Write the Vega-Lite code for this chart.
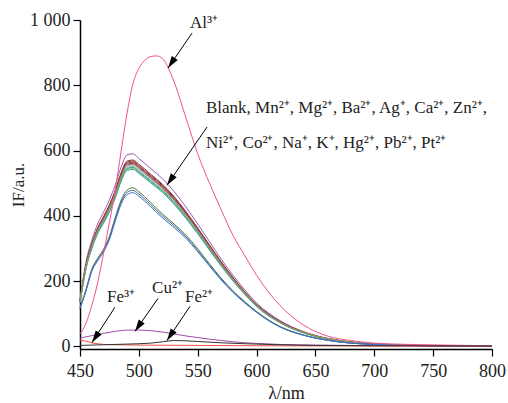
{
"$schema": "https://vega.github.io/schema/vega-lite/v6.json",
"width": 412, "height": 329,
"autosize": {"type": "none"},
"padding": {"left": 80, "top": 20, "right": 16, "bottom": 54},
"background": "white",
"config": {"view": {"stroke": null}, "font": "Liberation Serif"},
"datasets": {
"curves": [
{"s":"Mn2+","x":450,"y":145},{"s":"Mn2+","x":455,"y":257},{"s":"Mn2+","x":460,"y":325},{"s":"Mn2+","x":465,"y":375},{"s":"Mn2+","x":470,"y":411},{"s":"Mn2+","x":475,"y":449},{"s":"Mn2+","x":480,"y":495},{"s":"Mn2+","x":485,"y":550},{"s":"Mn2+","x":490,"y":587},{"s":"Mn2+","x":495,"y":590},{"s":"Mn2+","x":500,"y":576},{"s":"Mn2+","x":510,"y":545},{"s":"Mn2+","x":520,"y":514},{"s":"Mn2+","x":530,"y":474},{"s":"Mn2+","x":540,"y":427},{"s":"Mn2+","x":550,"y":375},{"s":"Mn2+","x":560,"y":321},{"s":"Mn2+","x":570,"y":267},{"s":"Mn2+","x":580,"y":218},{"s":"Mn2+","x":590,"y":173},{"s":"Mn2+","x":600,"y":133},{"s":"Mn2+","x":620,"y":79},{"s":"Mn2+","x":640,"y":45},{"s":"Mn2+","x":660,"y":25},{"s":"Mn2+","x":680,"y":14},{"s":"Mn2+","x":700,"y":7},{"s":"Mn2+","x":730,"y":3},{"s":"Mn2+","x":760,"y":2},{"s":"Mn2+","x":800,"y":1},
{"s":"Blank","x":450,"y":140},{"s":"Blank","x":455,"y":249},{"s":"Blank","x":460,"y":315},{"s":"Blank","x":465,"y":363},{"s":"Blank","x":470,"y":398},{"s":"Blank","x":475,"y":434},{"s":"Blank","x":480,"y":479},{"s":"Blank","x":485,"y":533},{"s":"Blank","x":490,"y":568},{"s":"Blank","x":495,"y":571},{"s":"Blank","x":500,"y":558},{"s":"Blank","x":510,"y":528},{"s":"Blank","x":520,"y":497},{"s":"Blank","x":530,"y":459},{"s":"Blank","x":540,"y":413},{"s":"Blank","x":550,"y":363},{"s":"Blank","x":560,"y":311},{"s":"Blank","x":570,"y":259},{"s":"Blank","x":580,"y":211},{"s":"Blank","x":590,"y":167},{"s":"Blank","x":600,"y":129},{"s":"Blank","x":620,"y":76},{"s":"Blank","x":640,"y":44},{"s":"Blank","x":660,"y":24},{"s":"Blank","x":680,"y":13},{"s":"Blank","x":700,"y":7},{"s":"Blank","x":730,"y":3},{"s":"Blank","x":760,"y":2},{"s":"Blank","x":800,"y":1},
{"s":"Mg2+","x":450,"y":139},{"s":"Mg2+","x":455,"y":247},{"s":"Mg2+","x":460,"y":312},{"s":"Mg2+","x":465,"y":361},{"s":"Mg2+","x":470,"y":395},{"s":"Mg2+","x":475,"y":431},{"s":"Mg2+","x":480,"y":476},{"s":"Mg2+","x":485,"y":529},{"s":"Mg2+","x":490,"y":564},{"s":"Mg2+","x":495,"y":568},{"s":"Mg2+","x":500,"y":554},{"s":"Mg2+","x":510,"y":524},{"s":"Mg2+","x":520,"y":494},{"s":"Mg2+","x":530,"y":456},{"s":"Mg2+","x":540,"y":410},{"s":"Mg2+","x":550,"y":361},{"s":"Mg2+","x":560,"y":308},{"s":"Mg2+","x":570,"y":257},{"s":"Mg2+","x":580,"y":210},{"s":"Mg2+","x":590,"y":166},{"s":"Mg2+","x":600,"y":128},{"s":"Mg2+","x":620,"y":76},{"s":"Mg2+","x":640,"y":43},{"s":"Mg2+","x":660,"y":24},{"s":"Mg2+","x":680,"y":13},{"s":"Mg2+","x":700,"y":7},{"s":"Mg2+","x":730,"y":3},{"s":"Mg2+","x":760,"y":2},{"s":"Mg2+","x":800,"y":1},
{"s":"Ba2+","x":450,"y":138},{"s":"Ba2+","x":455,"y":245},{"s":"Ba2+","x":460,"y":311},{"s":"Ba2+","x":465,"y":359},{"s":"Ba2+","x":470,"y":393},{"s":"Ba2+","x":475,"y":429},{"s":"Ba2+","x":480,"y":473},{"s":"Ba2+","x":485,"y":526},{"s":"Ba2+","x":490,"y":561},{"s":"Ba2+","x":495,"y":564},{"s":"Ba2+","x":500,"y":551},{"s":"Ba2+","x":510,"y":521},{"s":"Ba2+","x":520,"y":491},{"s":"Ba2+","x":530,"y":453},{"s":"Ba2+","x":540,"y":408},{"s":"Ba2+","x":550,"y":359},{"s":"Ba2+","x":560,"y":307},{"s":"Ba2+","x":570,"y":256},{"s":"Ba2+","x":580,"y":208},{"s":"Ba2+","x":590,"y":165},{"s":"Ba2+","x":600,"y":127},{"s":"Ba2+","x":620,"y":75},{"s":"Ba2+","x":640,"y":43},{"s":"Ba2+","x":660,"y":24},{"s":"Ba2+","x":680,"y":13},{"s":"Ba2+","x":700,"y":7},{"s":"Ba2+","x":730,"y":3},{"s":"Ba2+","x":760,"y":2},{"s":"Ba2+","x":800,"y":1},
{"s":"Ag+","x":450,"y":137},{"s":"Ag+","x":455,"y":244},{"s":"Ag+","x":460,"y":309},{"s":"Ag+","x":465,"y":357},{"s":"Ag+","x":470,"y":390},{"s":"Ag+","x":475,"y":426},{"s":"Ag+","x":480,"y":470},{"s":"Ag+","x":485,"y":523},{"s":"Ag+","x":490,"y":558},{"s":"Ag+","x":495,"y":561},{"s":"Ag+","x":500,"y":548},{"s":"Ag+","x":510,"y":518},{"s":"Ag+","x":520,"y":488},{"s":"Ag+","x":530,"y":450},{"s":"Ag+","x":540,"y":405},{"s":"Ag+","x":550,"y":357},{"s":"Ag+","x":560,"y":305},{"s":"Ag+","x":570,"y":254},{"s":"Ag+","x":580,"y":207},{"s":"Ag+","x":590,"y":164},{"s":"Ag+","x":600,"y":126},{"s":"Ag+","x":620,"y":75},{"s":"Ag+","x":640,"y":43},{"s":"Ag+","x":660,"y":24},{"s":"Ag+","x":680,"y":13},{"s":"Ag+","x":700,"y":7},{"s":"Ag+","x":730,"y":3},{"s":"Ag+","x":760,"y":2},{"s":"Ag+","x":800,"y":1},
{"s":"Ca2+","x":450,"y":136},{"s":"Ca2+","x":455,"y":242},{"s":"Ca2+","x":460,"y":306},{"s":"Ca2+","x":465,"y":354},{"s":"Ca2+","x":470,"y":387},{"s":"Ca2+","x":475,"y":423},{"s":"Ca2+","x":480,"y":466},{"s":"Ca2+","x":485,"y":519},{"s":"Ca2+","x":490,"y":553},{"s":"Ca2+","x":495,"y":556},{"s":"Ca2+","x":500,"y":543},{"s":"Ca2+","x":510,"y":514},{"s":"Ca2+","x":520,"y":484},{"s":"Ca2+","x":530,"y":447},{"s":"Ca2+","x":540,"y":402},{"s":"Ca2+","x":550,"y":354},{"s":"Ca2+","x":560,"y":302},{"s":"Ca2+","x":570,"y":252},{"s":"Ca2+","x":580,"y":206},{"s":"Ca2+","x":590,"y":163},{"s":"Ca2+","x":600,"y":125},{"s":"Ca2+","x":620,"y":74},{"s":"Ca2+","x":640,"y":42},{"s":"Ca2+","x":660,"y":24},{"s":"Ca2+","x":680,"y":13},{"s":"Ca2+","x":700,"y":7},{"s":"Ca2+","x":730,"y":3},{"s":"Ca2+","x":760,"y":2},{"s":"Ca2+","x":800,"y":1},
{"s":"Zn2+","x":450,"y":135},{"s":"Zn2+","x":455,"y":240},{"s":"Zn2+","x":460,"y":303},{"s":"Zn2+","x":465,"y":350},{"s":"Zn2+","x":470,"y":384},{"s":"Zn2+","x":475,"y":419},{"s":"Zn2+","x":480,"y":462},{"s":"Zn2+","x":485,"y":514},{"s":"Zn2+","x":490,"y":548},{"s":"Zn2+","x":495,"y":551},{"s":"Zn2+","x":500,"y":538},{"s":"Zn2+","x":510,"y":509},{"s":"Zn2+","x":520,"y":480},{"s":"Zn2+","x":530,"y":443},{"s":"Zn2+","x":540,"y":398},{"s":"Zn2+","x":550,"y":350},{"s":"Zn2+","x":560,"y":300},{"s":"Zn2+","x":570,"y":250},{"s":"Zn2+","x":580,"y":204},{"s":"Zn2+","x":590,"y":162},{"s":"Zn2+","x":600,"y":124},{"s":"Zn2+","x":620,"y":73},{"s":"Zn2+","x":640,"y":42},{"s":"Zn2+","x":660,"y":23},{"s":"Zn2+","x":680,"y":13},{"s":"Zn2+","x":700,"y":7},{"s":"Zn2+","x":730,"y":3},{"s":"Zn2+","x":760,"y":2},{"s":"Zn2+","x":800,"y":1},
{"s":"Ni2+","x":450,"y":134},{"s":"Ni2+","x":455,"y":238},{"s":"Ni2+","x":460,"y":302},{"s":"Ni2+","x":465,"y":348},{"s":"Ni2+","x":470,"y":381},{"s":"Ni2+","x":475,"y":416},{"s":"Ni2+","x":480,"y":459},{"s":"Ni2+","x":485,"y":511},{"s":"Ni2+","x":490,"y":545},{"s":"Ni2+","x":495,"y":548},{"s":"Ni2+","x":500,"y":535},{"s":"Ni2+","x":510,"y":506},{"s":"Ni2+","x":520,"y":477},{"s":"Ni2+","x":530,"y":440},{"s":"Ni2+","x":540,"y":396},{"s":"Ni2+","x":550,"y":348},{"s":"Ni2+","x":560,"y":298},{"s":"Ni2+","x":570,"y":248},{"s":"Ni2+","x":580,"y":202},{"s":"Ni2+","x":590,"y":161},{"s":"Ni2+","x":600,"y":124},{"s":"Ni2+","x":620,"y":73},{"s":"Ni2+","x":640,"y":42},{"s":"Ni2+","x":660,"y":23},{"s":"Ni2+","x":680,"y":13},{"s":"Ni2+","x":700,"y":7},{"s":"Ni2+","x":730,"y":3},{"s":"Ni2+","x":760,"y":2},{"s":"Ni2+","x":800,"y":1},
{"s":"Co2+","x":450,"y":134},{"s":"Co2+","x":455,"y":237},{"s":"Co2+","x":460,"y":300},{"s":"Co2+","x":465,"y":347},{"s":"Co2+","x":470,"y":379},{"s":"Co2+","x":475,"y":414},{"s":"Co2+","x":480,"y":457},{"s":"Co2+","x":485,"y":508},{"s":"Co2+","x":490,"y":542},{"s":"Co2+","x":495,"y":545},{"s":"Co2+","x":500,"y":532},{"s":"Co2+","x":510,"y":503},{"s":"Co2+","x":520,"y":474},{"s":"Co2+","x":530,"y":438},{"s":"Co2+","x":540,"y":394},{"s":"Co2+","x":550,"y":347},{"s":"Co2+","x":560,"y":296},{"s":"Co2+","x":570,"y":247},{"s":"Co2+","x":580,"y":201},{"s":"Co2+","x":590,"y":160},{"s":"Co2+","x":600,"y":123},{"s":"Co2+","x":620,"y":73},{"s":"Co2+","x":640,"y":42},{"s":"Co2+","x":660,"y":23},{"s":"Co2+","x":680,"y":13},{"s":"Co2+","x":700,"y":7},{"s":"Co2+","x":730,"y":3},{"s":"Co2+","x":760,"y":2},{"s":"Co2+","x":800,"y":1},
{"s":"Na+","x":450,"y":133},{"s":"Na+","x":455,"y":236},{"s":"Na+","x":460,"y":299},{"s":"Na+","x":465,"y":345},{"s":"Na+","x":470,"y":377},{"s":"Na+","x":475,"y":412},{"s":"Na+","x":480,"y":455},{"s":"Na+","x":485,"y":506},{"s":"Na+","x":490,"y":539},{"s":"Na+","x":495,"y":542},{"s":"Na+","x":500,"y":530},{"s":"Na+","x":510,"y":501},{"s":"Na+","x":520,"y":472},{"s":"Na+","x":530,"y":435},{"s":"Na+","x":540,"y":392},{"s":"Na+","x":550,"y":345},{"s":"Na+","x":560,"y":295},{"s":"Na+","x":570,"y":246},{"s":"Na+","x":580,"y":200},{"s":"Na+","x":590,"y":159},{"s":"Na+","x":600,"y":122},{"s":"Na+","x":620,"y":72},{"s":"Na+","x":640,"y":41},{"s":"Na+","x":660,"y":23},{"s":"Na+","x":680,"y":13},{"s":"Na+","x":700,"y":7},{"s":"Na+","x":730,"y":3},{"s":"Na+","x":760,"y":2},{"s":"Na+","x":800,"y":1},
{"s":"K+","x":450,"y":137},{"s":"K+","x":455,"y":243},{"s":"K+","x":460,"y":308},{"s":"K+","x":465,"y":355},{"s":"K+","x":470,"y":389},{"s":"K+","x":475,"y":425},{"s":"K+","x":480,"y":468},{"s":"K+","x":485,"y":521},{"s":"K+","x":490,"y":556},{"s":"K+","x":495,"y":558},{"s":"K+","x":500,"y":546},{"s":"K+","x":510,"y":516},{"s":"K+","x":520,"y":486},{"s":"K+","x":530,"y":448},{"s":"K+","x":540,"y":404},{"s":"K+","x":550,"y":355},{"s":"K+","x":560,"y":304},{"s":"K+","x":570,"y":253},{"s":"K+","x":580,"y":206},{"s":"K+","x":590,"y":164},{"s":"K+","x":600,"y":126},{"s":"K+","x":620,"y":74},{"s":"K+","x":640,"y":43},{"s":"K+","x":660,"y":24},{"s":"K+","x":680,"y":13},{"s":"K+","x":700,"y":7},{"s":"K+","x":730,"y":3},{"s":"K+","x":760,"y":2},{"s":"K+","x":800,"y":1},
{"s":"Hg2+","x":450,"y":119},{"s":"Hg2+","x":455,"y":173},{"s":"Hg2+","x":460,"y":237},{"s":"Hg2+","x":465,"y":270},{"s":"Hg2+","x":470,"y":298},{"s":"Hg2+","x":475,"y":337},{"s":"Hg2+","x":480,"y":396},{"s":"Hg2+","x":485,"y":449},{"s":"Hg2+","x":490,"y":479},{"s":"Hg2+","x":495,"y":486},{"s":"Hg2+","x":500,"y":474},{"s":"Hg2+","x":510,"y":441},{"s":"Hg2+","x":520,"y":406},{"s":"Hg2+","x":530,"y":375},{"s":"Hg2+","x":540,"y":341},{"s":"Hg2+","x":550,"y":299},{"s":"Hg2+","x":560,"y":253},{"s":"Hg2+","x":570,"y":209},{"s":"Hg2+","x":580,"y":170},{"s":"Hg2+","x":590,"y":137},{"s":"Hg2+","x":600,"y":107},{"s":"Hg2+","x":620,"y":61},{"s":"Hg2+","x":640,"y":35},{"s":"Hg2+","x":660,"y":19},{"s":"Hg2+","x":680,"y":10},{"s":"Hg2+","x":700,"y":6},{"s":"Hg2+","x":730,"y":3},{"s":"Hg2+","x":760,"y":2},{"s":"Hg2+","x":800,"y":1},
{"s":"Pb2+","x":450,"y":118},{"s":"Pb2+","x":455,"y":171},{"s":"Pb2+","x":460,"y":233},{"s":"Pb2+","x":465,"y":266},{"s":"Pb2+","x":470,"y":293},{"s":"Pb2+","x":475,"y":332},{"s":"Pb2+","x":480,"y":390},{"s":"Pb2+","x":485,"y":442},{"s":"Pb2+","x":490,"y":472},{"s":"Pb2+","x":495,"y":478},{"s":"Pb2+","x":500,"y":467},{"s":"Pb2+","x":510,"y":434},{"s":"Pb2+","x":520,"y":400},{"s":"Pb2+","x":530,"y":370},{"s":"Pb2+","x":540,"y":336},{"s":"Pb2+","x":550,"y":294},{"s":"Pb2+","x":560,"y":249},{"s":"Pb2+","x":570,"y":206},{"s":"Pb2+","x":580,"y":168},{"s":"Pb2+","x":590,"y":135},{"s":"Pb2+","x":600,"y":106},{"s":"Pb2+","x":620,"y":60},{"s":"Pb2+","x":640,"y":34},{"s":"Pb2+","x":660,"y":19},{"s":"Pb2+","x":680,"y":10},{"s":"Pb2+","x":700,"y":6},{"s":"Pb2+","x":730,"y":3},{"s":"Pb2+","x":760,"y":2},{"s":"Pb2+","x":800,"y":1},
{"s":"Pt2+","x":450,"y":116},{"s":"Pt2+","x":455,"y":168},{"s":"Pt2+","x":460,"y":230},{"s":"Pt2+","x":465,"y":262},{"s":"Pt2+","x":470,"y":289},{"s":"Pt2+","x":475,"y":327},{"s":"Pt2+","x":480,"y":384},{"s":"Pt2+","x":485,"y":436},{"s":"Pt2+","x":490,"y":465},{"s":"Pt2+","x":495,"y":471},{"s":"Pt2+","x":500,"y":460},{"s":"Pt2+","x":510,"y":428},{"s":"Pt2+","x":520,"y":394},{"s":"Pt2+","x":530,"y":364},{"s":"Pt2+","x":540,"y":331},{"s":"Pt2+","x":550,"y":290},{"s":"Pt2+","x":560,"y":246},{"s":"Pt2+","x":570,"y":203},{"s":"Pt2+","x":580,"y":165},{"s":"Pt2+","x":590,"y":133},{"s":"Pt2+","x":600,"y":104},{"s":"Pt2+","x":620,"y":59},{"s":"Pt2+","x":640,"y":34},{"s":"Pt2+","x":660,"y":19},{"s":"Pt2+","x":680,"y":10},{"s":"Pt2+","x":700,"y":6},{"s":"Pt2+","x":730,"y":3},{"s":"Pt2+","x":760,"y":2},{"s":"Pt2+","x":800,"y":1},
{"s":"Al3+","x":450,"y":38},{"s":"Al3+","x":455,"y":70},{"s":"Al3+","x":460,"y":125},{"s":"Al3+","x":465,"y":195},{"s":"Al3+","x":470,"y":285},{"s":"Al3+","x":475,"y":380},{"s":"Al3+","x":480,"y":480},{"s":"Al3+","x":485,"y":600},{"s":"Al3+","x":490,"y":715},{"s":"Al3+","x":495,"y":805},{"s":"Al3+","x":500,"y":852},{"s":"Al3+","x":505,"y":876},{"s":"Al3+","x":510,"y":888},{"s":"Al3+","x":515,"y":890},{"s":"Al3+","x":520,"y":882},{"s":"Al3+","x":530,"y":810},{"s":"Al3+","x":540,"y":700},{"s":"Al3+","x":550,"y":590},{"s":"Al3+","x":560,"y":500},{"s":"Al3+","x":570,"y":418},{"s":"Al3+","x":580,"y":340},{"s":"Al3+","x":590,"y":278},{"s":"Al3+","x":600,"y":218},{"s":"Al3+","x":620,"y":125},{"s":"Al3+","x":640,"y":65},{"s":"Al3+","x":660,"y":32},{"s":"Al3+","x":680,"y":18},{"s":"Al3+","x":700,"y":10},{"s":"Al3+","x":730,"y":6},{"s":"Al3+","x":760,"y":4},{"s":"Al3+","x":800,"y":2},
{"s":"Cu2+","x":450,"y":25},{"s":"Cu2+","x":460,"y":33},{"s":"Cu2+","x":470,"y":40},{"s":"Cu2+","x":480,"y":46},{"s":"Cu2+","x":490,"y":50},{"s":"Cu2+","x":500,"y":50},{"s":"Cu2+","x":510,"y":48},{"s":"Cu2+","x":520,"y":44},{"s":"Cu2+","x":530,"y":38},{"s":"Cu2+","x":540,"y":32},{"s":"Cu2+","x":550,"y":27},{"s":"Cu2+","x":560,"y":22},{"s":"Cu2+","x":570,"y":18},{"s":"Cu2+","x":580,"y":14},{"s":"Cu2+","x":600,"y":9},{"s":"Cu2+","x":620,"y":6},{"s":"Cu2+","x":650,"y":4},{"s":"Cu2+","x":700,"y":2},{"s":"Cu2+","x":800,"y":1},
{"s":"Fe3+","x":450,"y":19},{"s":"Fe3+","x":455,"y":16},{"s":"Fe3+","x":460,"y":11},{"s":"Fe3+","x":465,"y":8},{"s":"Fe3+","x":470,"y":6},{"s":"Fe3+","x":480,"y":5},{"s":"Fe3+","x":500,"y":4},{"s":"Fe3+","x":550,"y":3},{"s":"Fe3+","x":600,"y":2},{"s":"Fe3+","x":700,"y":1},{"s":"Fe3+","x":800,"y":1},
{"s":"Fe2+","x":450,"y":3},{"s":"Fe2+","x":470,"y":5},{"s":"Fe2+","x":490,"y":7},{"s":"Fe2+","x":510,"y":10},{"s":"Fe2+","x":520,"y":14},{"s":"Fe2+","x":530,"y":18},{"s":"Fe2+","x":540,"y":17},{"s":"Fe2+","x":550,"y":15},{"s":"Fe2+","x":570,"y":11},{"s":"Fe2+","x":600,"y":7},{"s":"Fe2+","x":650,"y":3},{"s":"Fe2+","x":700,"y":2},{"s":"Fe2+","x":800,"y":1}
],
"arrows": [
{"a":"Al","x":545.2,"y":960,"xe":524.8,"ye":853},
{"a":"Blank","x":557.9,"y":672,"xe":523.9,"ye":494},
{"a":"Fe3","x":479.7,"y":120,"xe":460.2,"ye":12},
{"a":"Cu","x":516.3,"y":147,"xe":496.7,"ye":46},
{"a":"Fe2","x":543.5,"y":123,"xe":523.9,"ye":18}
],
"labels": [
{"t":"Al³⁺","x":543.5,"y":991},
{"t":"Blank, Mn²⁺, Mg²⁺, Ba²⁺, Ag⁺, Ca²⁺, Zn²⁺,","x":557,"y":730},
{"t":"Ni²⁺, Co²⁺, Na⁺, K⁺, Hg²⁺, Pb²⁺, Pt²⁺","x":557,"y":623},
{"t":"Fe³⁺","x":473,"y":150},
{"t":"Cu²⁺","x":511.2,"y":178},
{"t":"Fe²⁺","x":539.2,"y":150}
]
},
"layer": [
{
"data": {"name": "curves"},
"mark": {"type": "line", "strokeWidth": 1, "interpolate": "monotone"},
"encoding": {
"x": {"field": "x", "type": "quantitative", "title": "λ/nm",
 "scale": {"domain": [450, 800], "nice": false, "zero": false},
 "axis": {"values": [450,500,550,600,650,700,750,800], "grid": false, "domainColor": "black", "domainWidth": 1.5, "tickColor": "black", "tickWidth": 1.2, "tickSize": 7, "labelFont": "Liberation Serif", "labelFontSize": 18, "labelColor": "#222", "labelPadding": 6, "titleFont": "Liberation Serif", "titleFontSize": 18, "titleFontWeight": "normal", "titleColor": "#222", "titlePadding": 4, "labelFlush": false}},
"y": {"field": "y", "type": "quantitative", "title": "IF/a.u.",
 "scale": {"domain": [-8, 1000], "nice": false, "zero": false},
 "axis": {"values": [0,200,400,600,800,1000], "grid": false, "labelExpr": "datum.value == 1000 ? '1 000' : datum.label", "domainColor": "black", "domainWidth": 1.5, "tickColor": "black", "tickWidth": 1.2, "tickSize": 7, "labelFont": "Liberation Serif", "labelFontSize": 18, "labelColor": "#222", "labelPadding": 3, "titleFont": "Liberation Serif", "titleFontSize": 17, "titleFontWeight": "normal", "titleColor": "#222", "titlePadding": 2, "labelFlush": false}},
"color": {"field": "s", "type": "nominal", "legend": null,
 "scale": {"domain": ["Mn2+","Blank","Mg2+","Ba2+","Ag+","Ca2+","Zn2+","Ni2+","Co2+","Na+","K+","Hg2+","Pb2+","Pt2+","Al3+","Cu2+","Fe3+","Fe2+"],
 "range": ["#9b59b6","#8c3c32","#7b2d3b","#c0392b","#5e3c7e","#8a96c0","#78a8e0","#2e9c4a","#7cc47c","#3aa6a6","#b08a40","#4b7a30","#4a6c9a","#3f6fd0","#f0508c","#9c4fa6","#f0503c","#333333"]}}
}
},
{
"data": {"name": "arrows"},
"mark": {"type": "rule", "color": "black", "strokeWidth": 1},
"encoding": {
"x": {"field": "x", "type": "quantitative", "title": "λ/nm"},
"y": {"field": "y", "type": "quantitative", "title": "IF/a.u."},
"x2": {"field": "xe"},
"y2": {"field": "ye"}
}
},
{
"data": {"name": "arrows"},
"mark": {"type": "point", "shape": "M0,0 L-0.3,1 L0.3,1 Z", "angle": 214, "size": 576, "filled": true, "color": "black", "opacity": 1, "strokeWidth": 0},
"encoding": {
"x": {"field": "xe", "type": "quantitative", "title": "λ/nm"},
"y": {"field": "ye", "type": "quantitative", "title": "IF/a.u."}
}
},
{
"data": {"name": "labels"},
"mark": {"type": "text", "align": "left", "baseline": "middle", "font": "Liberation Serif", "fontSize": 17, "color": "#222"},
"encoding": {
"x": {"field": "x", "type": "quantitative", "title": "λ/nm"},
"y": {"field": "y", "type": "quantitative", "title": "IF/a.u."},
"text": {"field": "t"}
}
}
]
}
